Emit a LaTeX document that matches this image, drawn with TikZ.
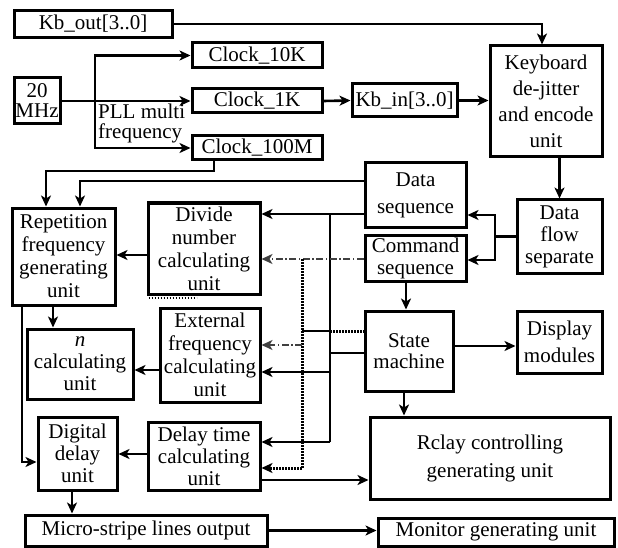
\documentclass[tikz,border=0pt]{standalone}
\usepackage{fontspec}
\setmainfont{Liberation Serif}
\usetikzlibrary{arrows.meta,calc}
\begin{document}
\begin{tikzpicture}[x=1pt,y=-1pt,
  >={Stealth[length=11pt,width=10pt,inset=3pt]},
  box/.style={draw, line width=3pt, inner sep=0pt, align=center,
    font=\fontsize{21}{23}\selectfont},
  wire/.style={line width=2.6pt},
  dashdot/.style={line width=1.3pt, draw=black!75, dash pattern=on 7pt off 2.5pt on 1.5pt off 2.5pt},
  dotbus/.style={line width=3pt, dash pattern=on 1.8pt off 1.2pt},
]
\useasboundingbox (0,0) rectangle (618,548);

% ---------- blocks ----------
\node[box,minimum width=158pt,minimum height=27pt] (kbout) at (93,24) {Kb\_out[3..0]};
\node[box,minimum width=46pt,minimum height=46pt,font=\fontsize{21}{20}\selectfont] (mhz) at (37,101) {20\\MHz};
\node[box,minimum width=130pt,minimum height=25pt] (clk10) at (257,55.5) {Clock\_10K};
\node[box,minimum width=130pt,minimum height=24pt] (clk1) at (257,101) {Clock\_1K};
\node[box,minimum width=130pt,minimum height=24pt] (clk100) at (257,148) {Clock\_100M};
\node[box,minimum width=105pt,minimum height=33pt] (kbin) at (404.5,100.5) {Kb\_in[3..0]};
\node[box,minimum width=112pt,minimum height=111pt,font=\fontsize{21}{26}\selectfont] (kbd) at (546,101.5) {Keyboard\\de-jitter\\and encode\\unit};
\node[box,minimum width=85pt,minimum height=73pt,font=\fontsize{21}{22}\selectfont] (dfs) at (559.5,236.5) {Data\\flow\\separate};
\node[box,minimum width=101pt,minimum height=64pt,font=\fontsize{21}{27}\selectfont] (dseq) at (415.5,195) {Data\\sequence};
\node[box,minimum width=101pt,minimum height=46pt,font=\fontsize{21}{22}\selectfont] (cseq) at (415.5,258) {Command\\sequence};
\node[box,minimum width=88pt,minimum height=80pt,font=\fontsize{21}{21}\selectfont] (sm) at (409,351) {State\\machine};
\node[box,minimum width=85pt,minimum height=62pt,font=\fontsize{21}{27}\selectfont] (disp) at (559.5,342) {Display\\modules};
\node[box,minimum width=240pt,minimum height=82pt,font=\fontsize{21}{28}\selectfont] (relay) at (490,458) {Rclay controlling\\generating unit};
\node[box,minimum width=236pt,minimum height=28pt] (mon) at (496,532) {Monitor generating unit};
\node[box,minimum width=242pt,minimum height=31pt] (micro) at (146,530.5) {Micro-stripe lines output};
\node[box,minimum width=103pt,minimum height=97pt] (rep) at (63.5,256.5) {Repetition\\frequency\\generating\\unit};
\node[box,minimum width=112pt,minimum height=91pt] (div) at (204,248.5) {Divide\\number\\calculating\\unit};
\node[box,minimum width=100pt,minimum height=94pt] (ext) at (210,355) {External\\frequency\\calculating\\unit};
\node[box,minimum width=106pt,minimum height=70pt,font=\fontsize{21}{22}\selectfont] (ncalc) at (80,364) {\textit{n}\\calculating\\unit};
\node[box,minimum width=79pt,minimum height=73pt,font=\fontsize{21}{22}\selectfont] (dig) at (77.5,453.5) {Digital\\delay\\unit};
\node[box,minimum width=112pt,minimum height=68pt,font=\fontsize{21}{22}\selectfont] (dly) at (204,456) {Delay time\\calculating\\unit};

\node[anchor=north west, align=left, inner sep=0pt, font=\fontsize{21}{20}\selectfont] (plllbl) at (98,104) {PLL multi\\frequency};

% ---------- routing levels ----------
\coordinate (pll) at (95,101);
\coordinate (kx) at (542,0);
\coordinate (sp) at (495,236.5);
\coordinate (yds) at (0,215);
\coordinate (ycs) at (0,260);
\coordinate (xcs) at (406,0);
\coordinate (ysd) at (0,346);
\coordinate (xsr) at (404,0);
\coordinate (yrl) at (0,480);
\coordinate (xc) at (214,0);
\coordinate (yc1) at (0,171);
\coordinate (xr1) at (46,0);
\coordinate (yd1) at (0,181);
\coordinate (xr2) at (80,0);
\coordinate (ydb) at (0,214);
\coordinate (xb) at (330,0);
\coordinate (ysm) at (0,353);
\coordinate (yex1) at (0,372);
\coordinate (ydl1) at (0,442);
\coordinate (ycd) at (0,259);
\coordinate (xd) at (302,0);
\coordinate (yst) at (0,331);
\coordinate (yex2) at (0,345);
\coordinate (ydl2) at (0,468);
\coordinate (yrp) at (0,255);
\coordinate (yn) at (0,370);
\coordinate (xn) at (53,0);
\coordinate (xdd) at (22,0);
\coordinate (ydg) at (0,462);
\coordinate (ydw) at (0,454);
\coordinate (xm) at (72,0);

% ---------- clock and keyboard path ----------
\draw[wire,->] (kbout.east) -| (kbd.north -| kx);
\draw[wire,->] (mhz.east) -- (clk1.west);
\draw[wire,<->] (clk100.west) -- (pll |- clk100.west) -- (pll |- clk10.west) -- (clk10.west);
\draw[wire,->] (clk1.east) -- (kbin.west);
\draw[wire,->] (kbin.east) -- (kbin.east -| kbd.west);
\draw[wire,->] (kbd.south -| dfs.north) -- (dfs.north);
\draw[wire] (dfs.west) -- (sp);
\draw[wire,->] (sp) |- (dseq.east |- yds);
\draw[wire,->] (sp) |- (cseq.east |- ycs);
\draw[wire,->] (cseq.south -| xcs) -- (sm.north -| xcs);
\draw[wire,->] (sm.east |- ysd) -- (disp.west |- ysd);
\draw[wire,->] (sm.south -| xsr) -- (relay.north -| xsr);
\draw[wire,->] (dly.east |- yrl) -- (relay.west |- yrl);
\draw[wire,->] (micro.east) -- (mon.west |- micro.east);

% ---------- feeds into repetition unit ----------
\draw[wire,->] (clk100.south -| xc) -- (xc |- yc1) -| (rep.north -| xr1);
\draw[wire,->] (dseq.west |- yd1) -| (rep.north -| xr2);

% ---------- data bus ----------
\draw[wire,->] (dseq.west |- ydb) -- (div.east |- ydb);
\draw[wire] (xb |- ydb) -- (xb |- ydl1);
\draw[wire] (xb |- ysm) -- (sm.west |- ysm);
\draw[wire,->] (xb |- yex1) -- (ext.east |- yex1);
\draw[wire,->] (xb |- ydl1) -- (dly.east |- ydl1);

% ---------- command bus ----------
\draw[dashdot,->] (cseq.west |- ycd) -- (div.east |- ycd);
\draw[dotbus] (xd |- ycd) -- (xd |- ydl2);
\draw[wire] (xd |- yst) -- (xb |- yst);
\draw[dotbus] (xb |- yst) -- (sm.west |- yst);
\draw[dashdot,->] (xd |- yex2) -- (ext.east |- yex2);
\draw[dotbus,->] (xd |- ydl2) -- (dly.east |- ydl2);

% ---------- left-hand chain ----------
\draw[wire,->] (div.west |- yrp) -- (rep.east |- yrp);
\draw[wire,->] (ext.west |- yn) -- (ncalc.east |- yn);
\draw[wire,->] (rep.south -| xn) -- (ncalc.north -| xn);
\draw[wire,->] (rep.south -| xdd) |- (dig.west |- ydg);
\draw[wire,->] (dly.west |- ydw) -- (dig.east |- ydw);
\draw[wire,->] (dig.south -| xm) -- (micro.north -| xm);
\draw[dotbus,line width=2.4pt] ($(div.south west)+(2,2.5)$) -- ($(div.south west)+(50,2.5)$);
\end{tikzpicture}
\end{document}
